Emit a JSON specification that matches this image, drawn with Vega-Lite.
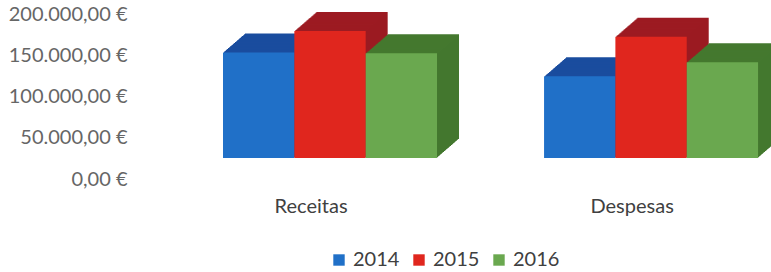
{
  "$schema": "https://vega.github.io/schema/vega-lite/v6.json",
  "autosize": "none",
  "width": 636,
  "height": 165,
  "padding": {"left": 135, "top": 14, "right": 0, "bottom": 93},
  "background": "white",
  "config": {
    "view": {"stroke": null},
    "locale": {"number": {"decimal": ",", "thousands": ".", "grouping": [3], "currency": ["", " €"]}}
  },
  "data": {"values": [
    {"categoria": "Receitas", "ano": "2014", "valor": 128000},
    {"categoria": "Receitas", "ano": "2015", "valor": 154000},
    {"categoria": "Receitas", "ano": "2016", "valor": 127000},
    {"categoria": "Despesas", "ano": "2014", "valor": 99000},
    {"categoria": "Despesas", "ano": "2015", "valor": 147000},
    {"categoria": "Despesas", "ano": "2016", "valor": 116000}
  ]},
  "encoding": {
    "x": {"field": "categoria", "type": "nominal", "sort": ["Receitas", "Despesas"],
      "scale": {"paddingInner": 0.333, "paddingOuter": 0.157, "align": 0.873},
      "axis": {"title": null, "domain": false, "ticks": false, "labelAngle": 0, "labelOffset": -19, "labelPadding": 17,
        "labelFont": "Lato", "labelFontSize": 20, "labelColor": "#404040"}},
    "y": {"field": "valor", "type": "quantitative", "scale": {"domain": [0, 200000], "nice": false},
      "axis": {"title": null, "values": [0, 50000, 100000, 150000, 200000], "format": "$,.2f", "domain": false, "ticks": false, "grid": false,
        "labelPadding": 8, "labelFont": "Lato", "labelFontSize": 20, "labelColor": "#666666"}}
  },
  "resolve": {"scale": {"xOffset": "independent"}},
  "layer": [
    {"mark": {"type": "bar", "yOffset": -40, "y2Offset": -40}, "encoding": {"xOffset": {"field": "ano", "type": "nominal", "scale": {"range": [22, 236], "paddingInner": 0, "paddingOuter": 0}}, "fill": {"condition": [{"test": "datum.ano === '2014'", "value": "#1a4c9e"}, {"test": "datum.ano === '2015'", "value": "#9c1b22"}], "value": "#44782f"}}},
    {"mark": {"type": "bar", "yOffset": -39.14, "y2Offset": -39.14}, "encoding": {"xOffset": {"field": "ano", "type": "nominal", "scale": {"range": [21, 235], "paddingInner": 0, "paddingOuter": 0}}, "fill": {"condition": [{"test": "datum.ano === '2014'", "value": "#1a4c9e"}, {"test": "datum.ano === '2015'", "value": "#9c1b22"}], "value": "#44782f"}}},
    {"mark": {"type": "bar", "yOffset": -38.27, "y2Offset": -38.27}, "encoding": {"xOffset": {"field": "ano", "type": "nominal", "scale": {"range": [20, 234], "paddingInner": 0, "paddingOuter": 0}}, "fill": {"condition": [{"test": "datum.ano === '2014'", "value": "#1a4c9e"}, {"test": "datum.ano === '2015'", "value": "#9c1b22"}], "value": "#44782f"}}},
    {"mark": {"type": "bar", "yOffset": -37.41, "y2Offset": -37.41}, "encoding": {"xOffset": {"field": "ano", "type": "nominal", "scale": {"range": [19, 233], "paddingInner": 0, "paddingOuter": 0}}, "fill": {"condition": [{"test": "datum.ano === '2014'", "value": "#1a4c9e"}, {"test": "datum.ano === '2015'", "value": "#9c1b22"}], "value": "#44782f"}}},
    {"mark": {"type": "bar", "yOffset": -36.55, "y2Offset": -36.55}, "encoding": {"xOffset": {"field": "ano", "type": "nominal", "scale": {"range": [18, 232], "paddingInner": 0, "paddingOuter": 0}}, "fill": {"condition": [{"test": "datum.ano === '2014'", "value": "#1a4c9e"}, {"test": "datum.ano === '2015'", "value": "#9c1b22"}], "value": "#44782f"}}},
    {"mark": {"type": "bar", "yOffset": -35.68, "y2Offset": -35.68}, "encoding": {"xOffset": {"field": "ano", "type": "nominal", "scale": {"range": [17, 231], "paddingInner": 0, "paddingOuter": 0}}, "fill": {"condition": [{"test": "datum.ano === '2014'", "value": "#1a4c9e"}, {"test": "datum.ano === '2015'", "value": "#9c1b22"}], "value": "#44782f"}}},
    {"mark": {"type": "bar", "yOffset": -34.82, "y2Offset": -34.82}, "encoding": {"xOffset": {"field": "ano", "type": "nominal", "scale": {"range": [16, 230], "paddingInner": 0, "paddingOuter": 0}}, "fill": {"condition": [{"test": "datum.ano === '2014'", "value": "#1a4c9e"}, {"test": "datum.ano === '2015'", "value": "#9c1b22"}], "value": "#44782f"}}},
    {"mark": {"type": "bar", "yOffset": -33.95, "y2Offset": -33.95}, "encoding": {"xOffset": {"field": "ano", "type": "nominal", "scale": {"range": [15, 229], "paddingInner": 0, "paddingOuter": 0}}, "fill": {"condition": [{"test": "datum.ano === '2014'", "value": "#1a4c9e"}, {"test": "datum.ano === '2015'", "value": "#9c1b22"}], "value": "#44782f"}}},
    {"mark": {"type": "bar", "yOffset": -33.09, "y2Offset": -33.09}, "encoding": {"xOffset": {"field": "ano", "type": "nominal", "scale": {"range": [14, 228], "paddingInner": 0, "paddingOuter": 0}}, "fill": {"condition": [{"test": "datum.ano === '2014'", "value": "#1a4c9e"}, {"test": "datum.ano === '2015'", "value": "#9c1b22"}], "value": "#44782f"}}},
    {"mark": {"type": "bar", "yOffset": -32.23, "y2Offset": -32.23}, "encoding": {"xOffset": {"field": "ano", "type": "nominal", "scale": {"range": [13, 227], "paddingInner": 0, "paddingOuter": 0}}, "fill": {"condition": [{"test": "datum.ano === '2014'", "value": "#1a4c9e"}, {"test": "datum.ano === '2015'", "value": "#9c1b22"}], "value": "#44782f"}}},
    {"mark": {"type": "bar", "yOffset": -31.36, "y2Offset": -31.36}, "encoding": {"xOffset": {"field": "ano", "type": "nominal", "scale": {"range": [12, 226], "paddingInner": 0, "paddingOuter": 0}}, "fill": {"condition": [{"test": "datum.ano === '2014'", "value": "#1a4c9e"}, {"test": "datum.ano === '2015'", "value": "#9c1b22"}], "value": "#44782f"}}},
    {"mark": {"type": "bar", "yOffset": -30.5, "y2Offset": -30.5}, "encoding": {"xOffset": {"field": "ano", "type": "nominal", "scale": {"range": [11, 225], "paddingInner": 0, "paddingOuter": 0}}, "fill": {"condition": [{"test": "datum.ano === '2014'", "value": "#1a4c9e"}, {"test": "datum.ano === '2015'", "value": "#9c1b22"}], "value": "#44782f"}}},
    {"mark": {"type": "bar", "yOffset": -29.64, "y2Offset": -29.64}, "encoding": {"xOffset": {"field": "ano", "type": "nominal", "scale": {"range": [10, 224], "paddingInner": 0, "paddingOuter": 0}}, "fill": {"condition": [{"test": "datum.ano === '2014'", "value": "#1a4c9e"}, {"test": "datum.ano === '2015'", "value": "#9c1b22"}], "value": "#44782f"}}},
    {"mark": {"type": "bar", "yOffset": -28.77, "y2Offset": -28.77}, "encoding": {"xOffset": {"field": "ano", "type": "nominal", "scale": {"range": [9, 223], "paddingInner": 0, "paddingOuter": 0}}, "fill": {"condition": [{"test": "datum.ano === '2014'", "value": "#1a4c9e"}, {"test": "datum.ano === '2015'", "value": "#9c1b22"}], "value": "#44782f"}}},
    {"mark": {"type": "bar", "yOffset": -27.91, "y2Offset": -27.91}, "encoding": {"xOffset": {"field": "ano", "type": "nominal", "scale": {"range": [8, 222], "paddingInner": 0, "paddingOuter": 0}}, "fill": {"condition": [{"test": "datum.ano === '2014'", "value": "#1a4c9e"}, {"test": "datum.ano === '2015'", "value": "#9c1b22"}], "value": "#44782f"}}},
    {"mark": {"type": "bar", "yOffset": -27.05, "y2Offset": -27.05}, "encoding": {"xOffset": {"field": "ano", "type": "nominal", "scale": {"range": [7, 221], "paddingInner": 0, "paddingOuter": 0}}, "fill": {"condition": [{"test": "datum.ano === '2014'", "value": "#1a4c9e"}, {"test": "datum.ano === '2015'", "value": "#9c1b22"}], "value": "#44782f"}}},
    {"mark": {"type": "bar", "yOffset": -26.18, "y2Offset": -26.18}, "encoding": {"xOffset": {"field": "ano", "type": "nominal", "scale": {"range": [6, 220], "paddingInner": 0, "paddingOuter": 0}}, "fill": {"condition": [{"test": "datum.ano === '2014'", "value": "#1a4c9e"}, {"test": "datum.ano === '2015'", "value": "#9c1b22"}], "value": "#44782f"}}},
    {"mark": {"type": "bar", "yOffset": -25.32, "y2Offset": -25.32}, "encoding": {"xOffset": {"field": "ano", "type": "nominal", "scale": {"range": [5, 219], "paddingInner": 0, "paddingOuter": 0}}, "fill": {"condition": [{"test": "datum.ano === '2014'", "value": "#1a4c9e"}, {"test": "datum.ano === '2015'", "value": "#9c1b22"}], "value": "#44782f"}}},
    {"mark": {"type": "bar", "yOffset": -24.45, "y2Offset": -24.45}, "encoding": {"xOffset": {"field": "ano", "type": "nominal", "scale": {"range": [4, 218], "paddingInner": 0, "paddingOuter": 0}}, "fill": {"condition": [{"test": "datum.ano === '2014'", "value": "#1a4c9e"}, {"test": "datum.ano === '2015'", "value": "#9c1b22"}], "value": "#44782f"}}},
    {"mark": {"type": "bar", "yOffset": -23.59, "y2Offset": -23.59}, "encoding": {"xOffset": {"field": "ano", "type": "nominal", "scale": {"range": [3, 217], "paddingInner": 0, "paddingOuter": 0}}, "fill": {"condition": [{"test": "datum.ano === '2014'", "value": "#1a4c9e"}, {"test": "datum.ano === '2015'", "value": "#9c1b22"}], "value": "#44782f"}}},
    {"mark": {"type": "bar", "yOffset": -22.73, "y2Offset": -22.73}, "encoding": {"xOffset": {"field": "ano", "type": "nominal", "scale": {"range": [2, 216], "paddingInner": 0, "paddingOuter": 0}}, "fill": {"condition": [{"test": "datum.ano === '2014'", "value": "#1a4c9e"}, {"test": "datum.ano === '2015'", "value": "#9c1b22"}], "value": "#44782f"}}},
    {"mark": {"type": "bar", "yOffset": -21.86, "y2Offset": -21.86}, "encoding": {"xOffset": {"field": "ano", "type": "nominal", "scale": {"range": [1, 215], "paddingInner": 0, "paddingOuter": 0}}, "fill": {"condition": [{"test": "datum.ano === '2014'", "value": "#1a4c9e"}, {"test": "datum.ano === '2015'", "value": "#9c1b22"}], "value": "#44782f"}}},
    {"mark": {"type": "bar", "yOffset": -21, "y2Offset": -21},
      "encoding": {
        "xOffset": {"field": "ano", "type": "nominal", "scale": {"range": [0, 214], "paddingInner": 0, "paddingOuter": 0}},
        "fill": {"field": "ano", "type": "nominal", "title": null,
          "scale": {"domain": ["2014", "2015", "2016"], "range": ["#2070c8", "#e0261e", "#6aa84f"]},
          "legend": {"orient": "none", "direction": "horizontal", "legendX": 194, "legendY": 236, "padding": 0,
            "symbolType": "square", "symbolSize": 130, "symbolStrokeWidth": 0, "symbolOpacity": 1, "labelFont": "Lato", "labelFontSize": 20, "labelColor": "#404040",
            "labelOffset": 4, "columnPadding": 9}}}}
  ]
}
